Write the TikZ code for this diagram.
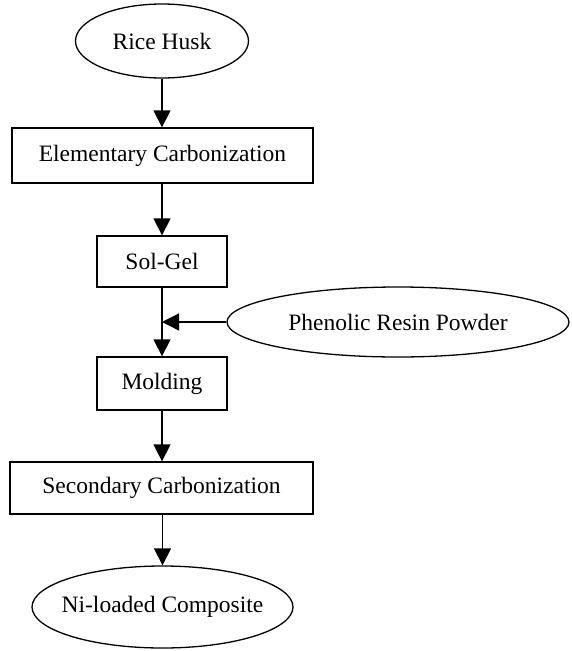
\documentclass[tikz,border=0pt]{standalone}
\usepackage{fontspec}
\setmainfont{Liberation Serif}
\usetikzlibrary{shapes.geometric,arrows.meta}
\begin{document}
\begin{tikzpicture}[x=1pt,y=-1pt,
  every node/.style={font=\fontsize{23.5}{28}\selectfont, inner sep=0pt},
  procbox/.style={rectangle, draw=black, line width=1.3pt},
  oval/.style={ellipse, draw=black, line width=1.3pt},
  flow/.style={line width=1.3pt, -{Triangle[length=17pt,width=17pt]}}]
\useasboundingbox (0,0) rectangle (571,651);
\node[oval, minimum width=173pt, minimum height=74pt, label=center:{Rice Husk}] (rice) at (162,41) {};
\node[procbox, minimum width=301pt, minimum height=55pt] (elem) at (162.5,155.5) {Elementary Carbonization};
\node[procbox, minimum width=130pt, minimum height=51pt] (solgel) at (162,261.5) {Sol-Gel};
\node[oval, minimum width=342pt, minimum height=70pt, label=center:{Phenolic Resin Powder}] (phen) at (398,322) {};
\node[procbox, minimum width=130pt, minimum height=53pt] (mold) at (162,383.5) {Molding};
\node[procbox, minimum width=303pt, minimum height=52pt] (second) at (161.5,488) {Secondary Carbonization};
\node[oval, minimum width=261pt, minimum height=82pt, label=center:{Ni-loaded Composite}] (ni) at (162.5,607) {};
\coordinate (join) at (solgel.south |- phen.west);
\draw[flow] (rice.south) -- (rice.south |- elem.north);
\draw[flow] (elem.south -| solgel.north) -- (solgel.north);
\draw[flow] (solgel.south) -- (mold.north);
\draw[flow] (phen.west) -- (join);
\draw[flow] (mold.south) -- (mold.south |- second.north);
\draw[flow] (second.south -| ni.north) -- (ni.north);
\end{tikzpicture}
\end{document}
